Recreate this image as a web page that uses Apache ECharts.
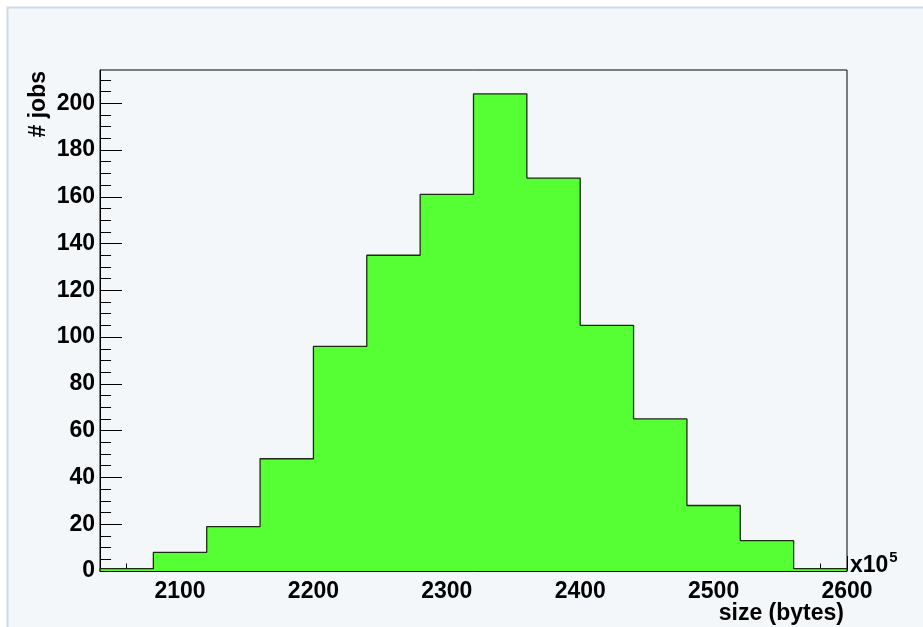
<!DOCTYPE html>
<html>
<head>
<meta charset="utf-8">
<script src="https://cdn.jsdelivr.net/npm/echarts@6/dist/echarts.min.js"></script>
<style>
html,body{margin:0;padding:0;background:#ffffff;}
#chart{width:923px;height:627px;}
</style>
</head>
<body>
<div id="chart"></div>
<script>
// Histogram data (x in units of 10^5 bytes)
const binEdges = [2040, 2080, 2120, 2160, 2200, 2240, 2280, 2320, 2360, 2400, 2440, 2480, 2520, 2560, 2600];
const counts = [1, 8, 19, 48, 96, 135, 161, 204, 168, 105, 65, 28, 13, 1];
const xMajorTicks = [2100, 2200, 2300, 2400, 2500, 2600];
const xMinorTicks = [2060, 2080, 2100, 2120, 2140, 2160, 2180, 2200, 2220, 2240, 2260, 2280, 2300, 2320, 2340, 2360, 2380, 2400, 2420, 2440, 2460, 2480, 2500, 2520, 2540, 2560, 2580];
const yMajorTicks = [0, 20, 40, 60, 80, 100, 120, 140, 160, 180, 200];
const yMinorTicks = [5, 10, 15, 25, 30, 35, 45, 50, 55, 65, 70, 75, 85, 90, 95, 105, 110, 115, 125, 130, 135, 145, 150, 155, 165, 170, 175, 185, 190, 195, 205, 210];
const xRange = [2040, 2600];
const yRange = [0, 214.2];
const xTitle = 'size (bytes)';
const yTitle = '# jobs';

// step data built from bins
const stepData = [[binEdges[0], 0]];
for (let i = 0; i < counts.length; i++) stepData.push([binEdges[i], counts[i]]);
stepData.push([binEdges[binEdges.length - 1], counts[counts.length - 1]]);
stepData.push([binEdges[binEdges.length - 1], 0]);

const FONT = 'Liberation Sans';
const FS = 23;
const labelStyle = {color: '#000', fontFamily: FONT, fontWeight: 'bold', fontSize: FS,
  formatter: function (v) { return String(v); }};

const chart = echarts.init(document.getElementById('chart'), null, {renderer: 'canvas'});
chart.setOption({
  animation: false,
  backgroundColor: '#ffffff',
  graphic: [
    {type: 'rect', z: -10, shape: {x: 7.5, y: 7.5, width: 930, height: 640},
     style: {fill: '#f3f7fa', stroke: '#cddbe2', lineWidth: 2}},
    {type: 'text', x: 39, y: 71, rotation: Math.PI / 2,
     style: {text: yTitle, align: 'right', verticalAlign: 'middle', fill: '#000', font: 'bold ' + FS + 'px "' + FONT + '"'}},
    {type: 'text', x: 844, y: 614,
     style: {text: xTitle, align: 'right', verticalAlign: 'middle', fill: '#000', font: 'bold ' + FS + 'px "' + FONT + '"'}},
    {type: 'text', x: 850, y: 566,
     style: {text: 'x10{sup|5}', align: 'left', verticalAlign: 'middle', fill: '#000',
       font: 'bold ' + FS + 'px "' + FONT + '"',
       rich: {sup: {fontSize: 15, fontWeight: 'bold', fontFamily: FONT, verticalAlign: 'top', padding: [0, 0, 16, 1]}}}}
  ],
  grid: {left: 100, right: 76, top: 70, bottom: 56, show: true, borderColor: '#000', borderWidth: 1, backgroundColor: 'transparent', containLabel: false},
  xAxis: [
    {type: 'value', min: xRange[0], max: xRange[1], position: 'bottom',
     axisLine: {show: true, onZero: false, lineStyle: {color: '#000', width: 1}},
     axisTick: {show: true, inside: true, length: 15, customValues: xMajorTicks, lineStyle: {color: '#000'}},
     axisLabel: Object.assign({show: true, margin: 9, customValues: xMajorTicks}, labelStyle),
     splitLine: {show: false}},
    {type: 'value', min: xRange[0], max: xRange[1], position: 'bottom',
     axisLine: {show: false},
     axisTick: {show: true, inside: true, length: 7.5, customValues: xMinorTicks, lineStyle: {color: '#000'}},
     axisLabel: {show: false},
     splitLine: {show: false}}
  ],
  yAxis: [
    {type: 'value', min: yRange[0], max: yRange[1], position: 'left',
     axisLine: {show: true, onZero: false, lineStyle: {color: '#000', width: 1}},
     axisTick: {show: true, inside: true, length: 22, customValues: yMajorTicks, lineStyle: {color: '#000'}},
     axisLabel: Object.assign({show: true, margin: 5, customValues: yMajorTicks}, labelStyle),
     splitLine: {show: false}},
    {type: 'value', min: yRange[0], max: yRange[1], position: 'left',
     axisLine: {show: false},
     axisTick: {show: true, inside: true, length: 11, customValues: yMinorTicks, lineStyle: {color: '#000'}},
     axisLabel: {show: false},
     splitLine: {show: false}}
  ],
  series: [
    {type: 'line', xAxisIndex: 0, yAxisIndex: 0, step: 'end', data: stepData,
     showSymbol: false, symbol: 'none', clip: true, z: 1,
     lineStyle: {color: '#1c2a14', width: 1.3},
     areaStyle: {color: '#55ff33', opacity: 1}}
  ]
});
</script>
</body>
</html>
